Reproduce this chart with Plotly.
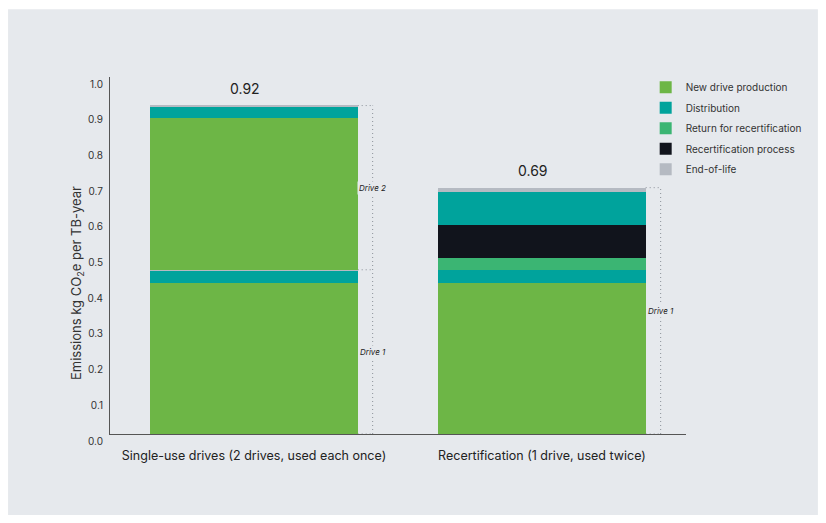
import plotly.graph_objects as go

# Emission components per scenario, stacked bottom to top (kg CO2e per TB-year)
categories = ["Single-use drives (2 drives, used each once)",
              "Recertification (1 drive, used twice)"]

single_use_stage = ["New drive production", "Distribution", "End-of-life",
                    "New drive production", "Distribution", "End-of-life"]
single_use_value = [0.424, 0.033, 0.003, 0.424, 0.033, 0.003]
single_use_drive = [1, 1, 1, 2, 2, 2]

recert_stage = ["New drive production", "Distribution", "Return for recertification",
                "Recertification process", "Distribution", "End-of-life"]
recert_value = [0.424, 0.034, 0.036, 0.091, 0.094, 0.011]
recert_drive = [1, 1, 1, 1, 1, 1]

legend_order = ["New drive production", "Distribution", "Return for recertification",
                "Recertification process", "End-of-life"]
stage_color = {
    "New drive production": "#6db646",
    "Distribution": "#00a39c",
    "Return for recertification": "#3bb573",
    "Recertification process": "#11141c",
    "End-of-life": "#b5bac2",
}

y_ticks = [0.0, 0.1, 0.2, 0.3, 0.4, 0.5, 0.6, 0.7, 0.8, 0.9, 1.0]

PANEL = "#e6e9ed"
FONT = "Inter"
BAR_WIDTH = 0.72
BRACKET_X = 0.412

fig = go.Figure()
shown = set()
scenarios = [
    (categories[0], single_use_stage, single_use_value),
    (categories[1], recert_stage, recert_value),
]
for cat, stages, values in scenarios:
    for stage, val in zip(stages, values):
        first = stage not in shown
        shown.add(stage)
        fig.add_trace(go.Bar(
            x=[cat], y=[val], name=stage,
            marker=dict(color=stage_color[stage], line=dict(width=0)),
            width=BAR_WIDTH,
            legendgroup=stage, showlegend=first,
            legendrank=legend_order.index(stage) + 1,
            hovertemplate=f"{stage}: %{{y:.3f}}<extra></extra>",
        ))

# Panel behind the chart
fig.add_shape(type="rect", xref="paper", yref="paper",
              x0=-0.177, x1=1.229, y0=-0.227, y1=1.19,
              fillcolor=PANEL, line_width=0, layer="below")

dot = dict(color="#8a9098", width=1, dash="1px,3px")


def add_drive_brackets(idx, stages, values, drives):
    # dotted bracket to the right of a bar, one span per drive
    bounds = [0.0]
    labels = []
    run = 0.0
    for i, v in enumerate(values):
        run += v
        if i == len(values) - 1 or drives[i + 1] != drives[i]:
            bounds.append(run)
            labels.append(drives[i])
    xr = idx + BAR_WIDTH / 2
    fig.add_shape(type="line", x0=idx + BRACKET_X, x1=idx + BRACKET_X,
                  y0=0, y1=bounds[-1], line=dot, layer="below")
    for b in bounds:
        fig.add_shape(type="line", x0=xr, x1=idx + BRACKET_X, y0=b, y1=b,
                      line=dot, layer="below")
    for d, lo, hi in zip(labels, bounds[:-1], bounds[1:]):
        fig.add_annotation(x=idx + BRACKET_X, y=(lo + hi) / 2,
                           text=f"<i>Drive {d}</i>", showarrow=False,
                           font=dict(family=FONT, size=8, color="#222"),
                           bgcolor=PANEL, borderpad=1)
    total = sum(values)
    fig.add_annotation(x=idx, y=total, text=f"{total:.2f}", showarrow=False,
                       xshift=-9, yshift=17.5, yanchor="middle",
                       font=dict(family=FONT, size=14, color="#222"))


add_drive_brackets(0, single_use_stage, single_use_value, single_use_drive)
add_drive_brackets(1, recert_stage, recert_value, recert_drive)

# Y-axis title
fig.add_annotation(xref="paper", yref="paper", x=-0.0764, y=0.423,
                   text="Emissions kg CO<sub>2</sub>e per TB-year", textangle=-90,
                   showarrow=False, font=dict(family=FONT, size=13, color="#333"))

fig.update_layout(
    width=826, height=523,
    margin=dict(l=110, r=140, t=77, b=89),
    paper_bgcolor="white", plot_bgcolor=PANEL,
    barmode="stack", bargap=0.28,
    font=dict(family=FONT, color="#333"),
    showlegend=True,
    legend=dict(x=0.93, xanchor="left", y=1.012, yanchor="top",
                traceorder="grouped", tracegroupgap=1.5,
                font=dict(family=FONT, size=10, color="#333"),
                bgcolor="rgba(0,0,0,0)", itemclick=False),
    xaxis=dict(categoryorder="array", categoryarray=categories,
               showline=True, linecolor="#555", linewidth=1,
               showgrid=False, zeroline=False, ticks="",
               ticklabelstandoff=10,
               tickfont=dict(family=FONT, size=12.5, color="#222"),
               range=[-0.5, 1.5]),
    yaxis=dict(range=[0, 1.0], tickvals=y_ticks,
               ticktext=[f"{v:.1f}" for v in y_ticks],
               showline=True, linecolor="#555", linewidth=1,
               showgrid=False, zeroline=False, ticks="",
               ticklabelposition="outside bottom", ticklabelstandoff=4,
               tickfont=dict(family=FONT, size=10, color="#333")),
)

fig.write_html("out.html")
